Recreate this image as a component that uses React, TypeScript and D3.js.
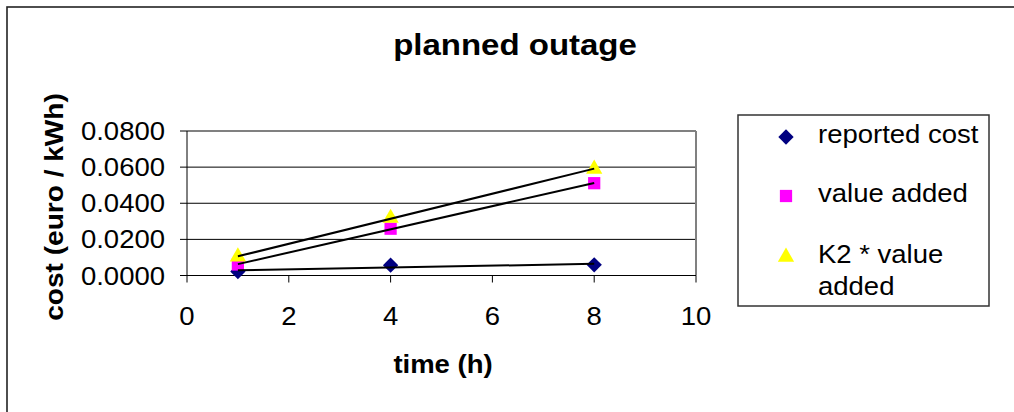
import React from "react";
import * as d3 from "d3";

const hours = [1, 4, 8];
const reportedCost = [0.0022, 0.0057, 0.0059];
const valueAdded = [0.0061, 0.0259, 0.0511];
const k2ValueAdded = [0.0104, 0.0318, 0.0590];
const xTicks = [0, 2, 4, 6, 8, 10];
const yTicks = [0, 0.02, 0.04, 0.06, 0.08];
const seriesNames = ["reported cost", "value added", "K2 * value added"];

const FONT = "'Liberation Sans', Arial, Helvetica, sans-serif";
const SX = 1.1;

function regression(xs: number[], ys: number[]) {
  const mx = d3.mean(xs)!;
  const my = d3.mean(ys)!;
  let num = 0;
  let den = 0;
  xs.forEach((x, i) => {
    num += (x - mx) * (ys[i] - my);
    den += (x - mx) * (x - mx);
  });
  const slope = num / den;
  return (x: number) => my + slope * (x - mx);
}

function T(props: {
  x: number;
  y: number;
  size: number;
  anchor?: string;
  bold?: boolean;
  children: React.ReactNode;
}) {
  const { x, y, size, anchor = "start", bold, children } = props;
  return (
    <g transform={`translate(${x},${y}) scale(${SX},1)`}>
      <text
        x={0}
        y={0}
        textAnchor={anchor}
        fontSize={size}
        fontWeight={bold ? "bold" : "normal"}
        fill="#000"
      >
        {children}
      </text>
    </g>
  );
}

export default function App() {
  const W = 1014;
  const H = 412;
  const left = 187;
  const right = 696;
  const top = 131;
  const bottom = 275.5;

  const x = d3.scaleLinear().domain([0, 10]).range([left, right]);
  const y = d3.scaleLinear().domain([0, 0.08]).range([bottom, top]);

  const diamond = d3.symbol().type(d3.symbolDiamond2).size(150)();
  const square = d3.symbol().type(d3.symbolSquare).size(150)();
  const triangle = d3.symbol().type(d3.symbolTriangle).size(115)();

  const series = [
    { name: seriesNames[0], values: reportedCost, color: "#000080", path: diamond },
    { name: seriesNames[1], values: valueAdded, color: "#FF00FF", path: square },
    { name: seriesNames[2], values: k2ValueAdded, color: "#FFFF00", path: triangle },
  ];

  const xMin = d3.min(hours)!;
  const xMax = d3.max(hours)!;
  const line = d3
    .line<[number, number]>()
    .x((d) => x(d[0]))
    .y((d) => y(d[1]));

  return (
    <svg
      width={W}
      height={H}
      style={{ position: "fixed", left: 0, top: 0, background: "#fff" }}
      fontFamily={FONT}
    >
      <rect x={0} y={0} width={W} height={H} fill="#fff" />
      <rect x={7} y={7} width={1200} height={600} fill="none" stroke="#222" strokeWidth={1.6} />

      <T x={515} y={55} size={30} anchor="middle" bold>
        planned outage
      </T>

      {yTicks.slice(1, -1).map((t) => (
        <line key={t} x1={left} x2={right} y1={y(t)} y2={y(t)} stroke="#000" strokeWidth={1} />
      ))}
      <line x1={left} x2={right} y1={top} y2={top} stroke="#808080" strokeWidth={2} />
      <line x1={right} x2={right} y1={top} y2={bottom} stroke="#808080" strokeWidth={2} />

      <line x1={left} x2={left} y1={top} y2={bottom} stroke="#000" strokeWidth={1} />
      <line x1={left} x2={right} y1={bottom} y2={bottom} stroke="#000" strokeWidth={1} />
      {yTicks.map((t) => (
        <g key={t}>
          <line x1={left - 7} x2={left} y1={y(t)} y2={y(t)} stroke="#000" />
          <T x={165} y={y(t) + 9} size={25} anchor="end">
            {t.toFixed(4)}
          </T>
        </g>
      ))}
      {xTicks.map((t) => (
        <g key={t}>
          <line x1={x(t)} x2={x(t)} y1={bottom} y2={bottom + 7} stroke="#000" />
          <T x={x(t)} y={324.5} size={25} anchor="middle">
            {t}
          </T>
        </g>
      ))}

      <T x={443} y={373} size={25} anchor="middle" bold>
        time (h)
      </T>
      <g transform="translate(63,207) rotate(-90) scale(1.08,1)">
        <text x={0} y={0} textAnchor="middle" fontSize={26} fontWeight="bold" fill="#000">
          cost (euro / kWh)
        </text>
      </g>

      {series.map((s) =>
        s.values.map((v, i) => (
          <path
            key={s.name + i}
            d={s.path!}
            transform={`translate(${x(hours[i])},${y(v)})`}
            fill={s.color}
          />
        ))
      )}

      {series.map((s) => {
        const f = regression(hours, s.values);
        return (
          <path
            key={"t" + s.name}
            d={line([
              [xMin, f(xMin)],
              [xMax, f(xMax)],
            ])!}
            fill="none"
            stroke="#000"
            strokeWidth={2}
          />
        );
      })}

      <rect x={738} y={115} width={251} height={191} fill="#fff" stroke="#333" strokeWidth={1.5} />
      <path d={diamond!} transform="translate(786,137)" fill="#000080" />
      <T x={818} y={143} size={25}>
        {seriesNames[0]}
      </T>
      <path d={square!} transform="translate(786,196)" fill="#FF00FF" />
      <T x={818} y={202} size={25}>
        {seriesNames[1]}
      </T>
      <path d={triangle!} transform="translate(786,257)" fill="#FFFF00" />
      <T x={818} y={263} size={25}>
        K2 * value
      </T>
      <T x={818} y={295} size={25}>
        added
      </T>
    </svg>
  );
}
